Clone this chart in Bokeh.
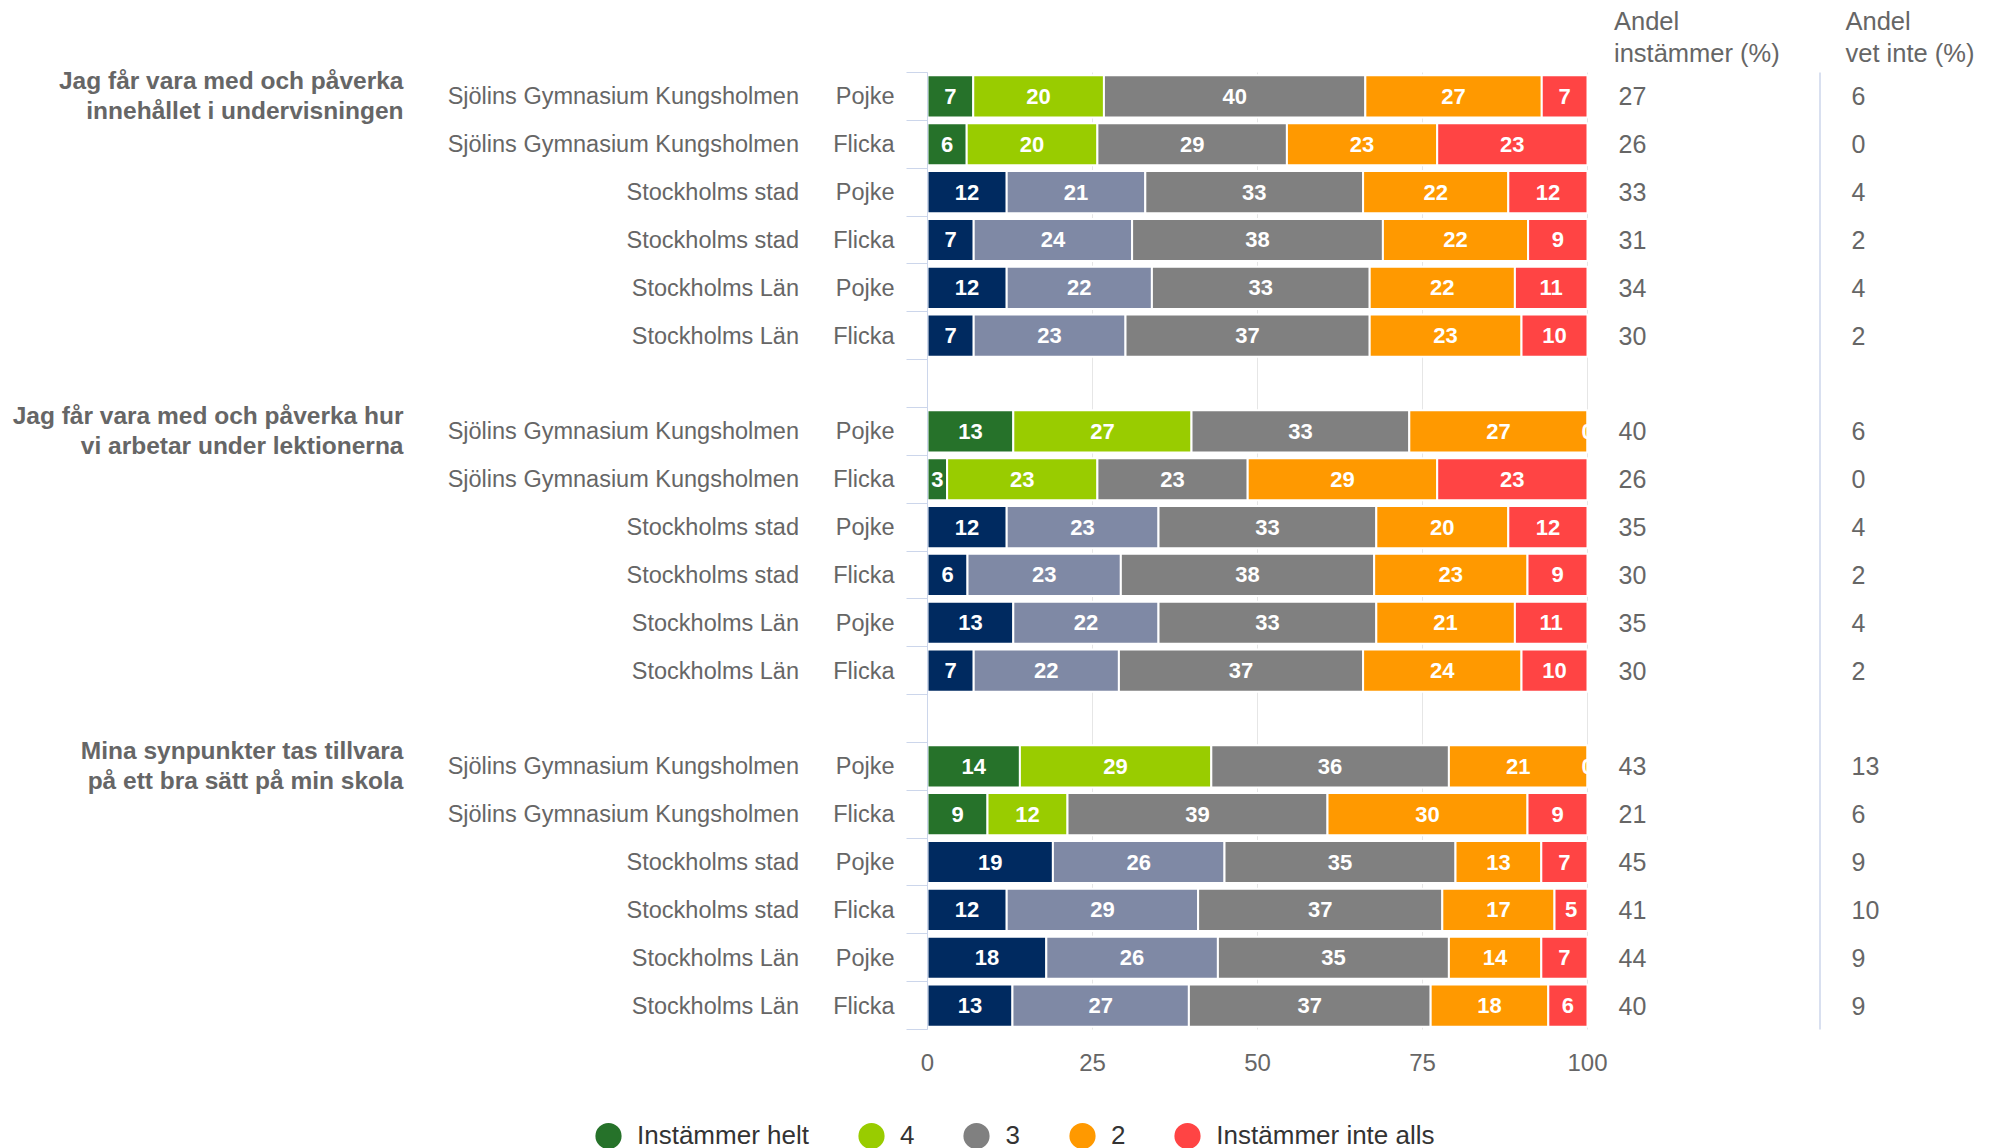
from bokeh.plotting import figure
from bokeh.models import (ColumnDataSource, Range1d, FixedTicker, Legend, LegendItem)
from bokeh.core.properties import value
from bokeh.embed import file_html
from bokeh.resources import INLINE

FONT = "Liberation Sans"

# ---------------- data ----------------
question_titles = [
    ["Jag får vara med och påverka", "innehållet i undervisningen"],
    ["Jag får vara med och påverka hur", "vi arbetar under lektionerna"],
    ["Mina synpunkter tas tillvara", "på ett bra sätt på min skola"],
]
units = ["Sjölins Gymnasium Kungsholmen", "Sjölins Gymnasium Kungsholmen",
         "Stockholms stad", "Stockholms stad", "Stockholms Län", "Stockholms Län"]
genders = ["Pojke", "Flicka", "Pojke", "Flicka", "Pojke", "Flicka"]
categories = ["Instämmer helt", "4", "3", "2", "Instämmer inte alls"]
x_ticks = [0, 25, 50, 75, 100]
header_instammer = ["Andel", "instämmer (%)"]
header_vet_inte = ["Andel", "vet inte (%)"]

q1_helt = [7, 6, 12, 7, 12, 7]
q1_4 = [20, 20, 21, 24, 22, 23]
q1_3 = [40, 29, 33, 38, 33, 37]
q1_2 = [27, 23, 22, 22, 22, 23]
q1_inte = [7, 23, 12, 9, 11, 10]
q1_andel_instammer = [27, 26, 33, 31, 34, 30]
q1_andel_vet_inte = [6, 0, 4, 2, 4, 2]

q2_helt = [13, 3, 12, 6, 13, 7]
q2_4 = [27, 23, 23, 23, 22, 22]
q2_3 = [33, 23, 33, 38, 33, 37]
q2_2 = [27, 29, 20, 23, 21, 24]
q2_inte = [0, 23, 12, 9, 11, 10]
q2_andel_instammer = [40, 26, 35, 30, 35, 30]
q2_andel_vet_inte = [6, 0, 4, 2, 4, 2]

q3_helt = [14, 9, 19, 12, 18, 13]
q3_4 = [29, 12, 26, 29, 26, 27]
q3_3 = [36, 39, 35, 37, 35, 37]
q3_2 = [21, 30, 13, 17, 14, 18]
q3_inte = [0, 9, 7, 5, 7, 6]
q3_andel_instammer = [43, 21, 45, 41, 44, 40]
q3_andel_vet_inte = [13, 6, 9, 10, 9, 9]

questions = [
    [q1_helt, q1_4, q1_3, q1_2, q1_inte],
    [q2_helt, q2_4, q2_3, q2_2, q2_inte],
    [q3_helt, q3_4, q3_3, q3_2, q3_inte],
]
andel_instammer = [q1_andel_instammer, q2_andel_instammer, q3_andel_instammer]
andel_vet_inte = [q1_andel_vet_inte, q2_andel_vet_inte, q3_andel_vet_inte]

# ---------------- styling / layout ----------------
school_colors = ["#26722a", "#99cc00", "#808080", "#ff9900", "#ff4444"]
region_colors = ["#002a60", "#7f89a5", "#808080", "#ff9900", "#ff4444"]
TEXT = "#666666"
AXIS = "#ccd6eb"

W, H = 1994, 1148
X0_PX = 927          # pixel of value 0
UNIT_PX = 6.6        # pixels per percent
ROW_TOP, ROW_BOTTOM = 72, 1029
N_ROWS = 20
GROUP_STEP = 7
ROW_PX = (ROW_BOTTOM - ROW_TOP) / N_ROWS


def xd(px):
    return (px - X0_PX) / UNIT_PX


def yd(py):
    return (py - ROW_TOP) / ROW_PX


# ---------------- sources ----------------
seg = dict(y=[], left=[], right=[], mid=[], color=[], label=[])
rows = dict(y=[], unit=[], gender=[], inst=[], vet=[])
for qi, q in enumerate(questions):
    for r in range(6):
        yc = qi * GROUP_STEP + r + 0.5
        vals = [q[c][r] for c in range(5)]
        total = sum(vals)
        pal = school_colors if units[r].startswith("Sjölins") else region_colors
        cum = 0
        for c, v in enumerate(vals):
            left = cum / total * 100
            cum += v
            right = cum / total * 100
            seg["y"].append(yc)
            seg["left"].append(left)
            seg["right"].append(right)
            seg["mid"].append((left + right) / 2)
            seg["color"].append(pal[c])
            seg["label"].append(str(v))
        rows["y"].append(yc)
        rows["unit"].append(units[r])
        rows["gender"].append(genders[r])
        rows["inst"].append(str(andel_instammer[qi][r]))
        rows["vet"].append(str(andel_vet_inte[qi][r]))

seg_src = ColumnDataSource(seg)
row_src = ColumnDataSource(rows)

titles = dict(x=[], y=[], text=[])
for qi, lines in enumerate(question_titles):
    for li, txt in enumerate(lines):
        titles["x"].append(xd(403))
        titles["y"].append(qi * GROUP_STEP + (8 + 30 * li) / ROW_PX)
        titles["text"].append(txt)

headers = dict(x=[], y=[], text=[])
for hx, lines in ((1613.5, header_instammer), (1845, header_vet_inte)):
    for txt, py in zip(lines, (20, 52)):
        headers["x"].append(xd(hx))
        headers["y"].append(yd(py))
        headers["text"].append(txt)

p = figure(width=W, height=H, output_backend="svg", toolbar_location=None,
           x_range=Range1d(xd(0), xd(W)),
           y_range=Range1d(yd(H), yd(0)),
           min_border=0, min_border_left=0, min_border_right=0,
           min_border_top=0, min_border_bottom=0)
p.outline_line_color = None
p.background_fill_color = "white"
p.border_fill_color = "white"
p.xgrid.grid_line_color = None
p.ygrid.grid_line_color = None

# x axis (value axis) sitting under the rows
p.xaxis.fixed_location = N_ROWS
p.xaxis.bounds = (0, 100)
p.xaxis.ticker = FixedTicker(ticks=x_ticks)
p.xaxis.axis_line_color = None
p.xaxis.major_tick_line_color = None
p.xaxis.minor_tick_line_color = None
p.xaxis.major_tick_out = 0
p.xaxis.major_label_standoff = 24
p.xaxis.major_label_text_font = FONT
p.xaxis.major_label_text_font_size = "24px"
p.xaxis.major_label_text_color = TEXT

# category axis line with ticks between rows
p.yaxis.fixed_location = 0
p.yaxis.bounds = (0, N_ROWS)
p.yaxis.ticker = FixedTicker(ticks=list(range(N_ROWS + 1)))
p.yaxis.axis_line_color = AXIS
p.yaxis.major_tick_line_color = AXIS
p.yaxis.minor_tick_line_color = None
p.yaxis.major_tick_out = 21
p.yaxis.major_tick_in = 0
p.yaxis.major_label_text_alpha = 0
p.yaxis.major_label_text_font_size = "8px"

# vertical grid lines over the row area
p.segment(x0=x_ticks, y0=0, x1=x_ticks, y1=N_ROWS, line_color="#e6e6e6", line_width=1)

# bars
p.hbar(y="y", left="left", right="right", height=0.88, source=seg_src,
       fill_color="color", line_color="white", line_width=2)
p.text(x="mid", y="y", text="label", source=seg_src,
       text_align="center", text_baseline="middle",
       text_font=value(FONT), text_font_style="bold",
       text_font_size="22px", text_color="white")

# right columns
p.text(x=xd(1618), y="y", text="inst", source=row_src,
       text_align="left", text_baseline="middle",
       text_font=value(FONT), text_font_size="25px", text_color=TEXT)
p.text(x=xd(1851), y="y", text="vet", source=row_src,
       text_align="left", text_baseline="middle",
       text_font=value(FONT), text_font_size="25px", text_color=TEXT)
p.segment(x0=xd(1819.5), y0=0, x1=xd(1819.5), y1=N_ROWS,
          line_color=AXIS, line_width=1.5)
p.text(x="x", y="y", text="text", source=ColumnDataSource(headers),
       text_align="left", text_baseline="middle",
       text_font=value(FONT), text_font_size="25.5px", text_color=TEXT)

# left labels
p.text(x=xd(798.5), y="y", text="unit", source=row_src,
       text_align="right", text_baseline="middle",
       text_font=value(FONT), text_font_size="23.5px", text_color=TEXT)
p.text(x=xd(894), y="y", text="gender", source=row_src,
       text_align="right", text_baseline="middle",
       text_font=value(FONT), text_font_size="23.5px", text_color=TEXT)
p.text(x="x", y="y", text="text", source=ColumnDataSource(titles),
       text_align="right", text_baseline="middle",
       text_font=value(FONT), text_font_style="bold",
       text_font_size="24.5px", text_color=TEXT)

# legend (renderers hold no visible points; they only provide the legend swatches)
nan = float("nan")
items = []
for cat, col in zip(categories, school_colors):
    r = p.scatter(x=[nan], y=[nan], marker="circle", size=10,
                  fill_color=col, line_color=col, line_width=3)
    items.append(LegendItem(label=cat, renderers=[r]))
legend = Legend(items=items, orientation="horizontal",
                location=(579, H - (1135 + 32.5)),
                glyph_width=58, glyph_height=65, label_standoff=0, spacing=33,
                padding=0, margin=0, border_line_color=None,
                background_fill_alpha=0, label_width=1, label_height=1,
                label_text_font=FONT, label_text_font_size="26px",
                label_text_color="#333333")
p.add_layout(legend)

open("out.html", "w").write(file_html(p, INLINE))
